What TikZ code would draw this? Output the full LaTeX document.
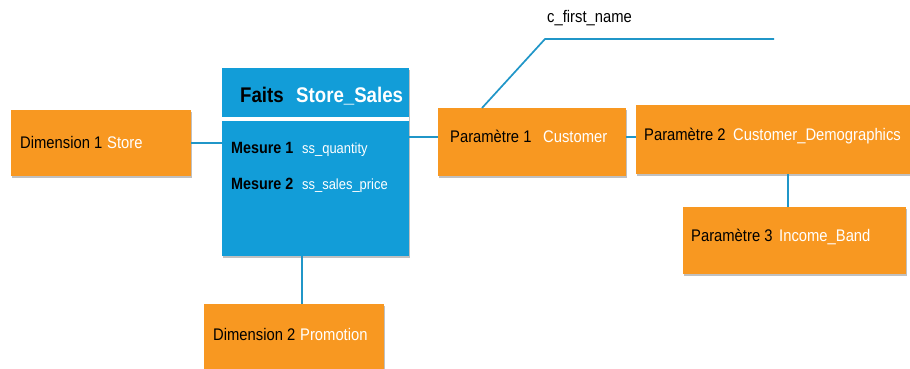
\documentclass[tikz,border=0pt]{standalone}
\usepackage{fontspec}
\setmainfont{Liberation Sans}[FakeStretch=0.88]
\usetikzlibrary{shadows}
\definecolor{ora}{RGB}{248,152,33}
\definecolor{blu}{RGB}{18,157,216}
\definecolor{lin}{RGB}{32,150,200}
\tikzset{
  box/.style={anchor=north west, inner sep=0pt, outer sep=0pt, draw=none,
    drop shadow={shadow xshift=1pt, shadow yshift=-2pt, opacity=0.35, fill=black!70}},
  obox/.style={box, fill=ora},
  lbl/.style={anchor=base west, inner sep=0pt, font=\fontsize{16.8}{18}\selectfont},
  wlbl/.style={lbl, text=white},
  mlbl/.style={anchor=base west, inner sep=0pt, font=\bfseries\fontsize{16.3}{18}\selectfont},
  vlbl/.style={anchor=base west, inner sep=0pt, text=white, font=\fontsize{14.7}{16}\selectfont},
  tlbl/.style={anchor=base west, inner sep=0pt, font=\bfseries\fontsize{21.2}{23}\selectfont},
  conn/.style={draw=lin, line width=1.7pt},
}
\begin{document}
\begin{tikzpicture}[x=1pt,y=-1pt]
\useasboundingbox (0,0) rectangle (910,369);
\clip (0,0) rectangle (910,369);
\fill[white] (0,0) rectangle (910,369);

% boxes
\node[obox, minimum width=180pt, minimum height=66pt] (d1) at (11,110) {};
\node[box, fill=blu, minimum width=187pt, minimum height=188pt] (faits) at (222,68) {};
\node[obox, minimum width=188pt, minimum height=68pt] (p1) at (438,108) {};
\node[obox, minimum width=280pt, minimum height=69pt] (p2) at (636,105) {};
\node[obox, minimum width=223pt, minimum height=67pt] (p3) at (683,207) {};
\node[obox, minimum width=180pt, minimum height=80pt] (d2) at (204,304) {};

% white separator in the fact box
\coordinate (sep) at (0,119);
\draw[white, line width=3.2pt] (faits.west |- sep) -- (faits.east |- sep);

% labels
\node[lbl] (d1a) at (20,148.3) {Dimension 1};
\node[wlbl] (d1b) at (107,148.3) {Store};
\node[tlbl] (ft1) at (240,102.7) {Faits};
\node[tlbl, text=white] (ft2) at (296,102.7) {Store\_Sales};
\node[mlbl] (m1a) at (231,153.3) {Mesure 1};
\node[vlbl] (m1b) at (302,153.3) {ss\_quantity};
\node[mlbl] (m2a) at (231,189) {Mesure 2};
\node[vlbl] (m2b) at (302,189) {ss\_sales\_price};
\node[lbl] (p1a) at (450,142) {Paramètre 1};
\node[wlbl] (p1b) at (543,142) {Customer};
\node[lbl] (p2a) at (644,140.5) {Paramètre 2};
\node[wlbl] (p2b) at (733,140.5) {Customer\_Demographics};
\node[lbl] (p3a) at (691,241.7) {Paramètre 3};
\node[wlbl] (p3b) at (779,241.7) {Income\_Band};
\node[lbl] (d2a) at (213,340.7) {Dimension 2};
\node[wlbl] (d2b) at (300,340.7) {Promotion};
\node[lbl] (cfn) at (547,23) {c\_first\_name};

% connector helpers
\coordinate (yd1) at (0,143);
\coordinate (yp1) at (0,137);
\coordinate (xd2) at (302,0);
\coordinate (xp3) at (788,0);
\coordinate (xcf) at (482,0);
\coordinate (k1) at (545,39);
\coordinate (k2) at (774,39);

% connectors
\draw[conn] (d1.east |- yd1) -- (faits.west |- yd1);
\draw[conn] (faits.east |- yp1) -- (p1.west |- yp1);
\draw[conn] (p1.east |- yp1) -- (p2.west |- yp1);
\draw[conn] (faits.south -| xd2) -- (d2.north -| xd2);
\draw[conn] (p2.south -| xp3) -- (p3.north -| xp3);
\draw[conn] (p1.north -| xcf) -- (k1) -- (k2);
\end{tikzpicture}
\end{document}
